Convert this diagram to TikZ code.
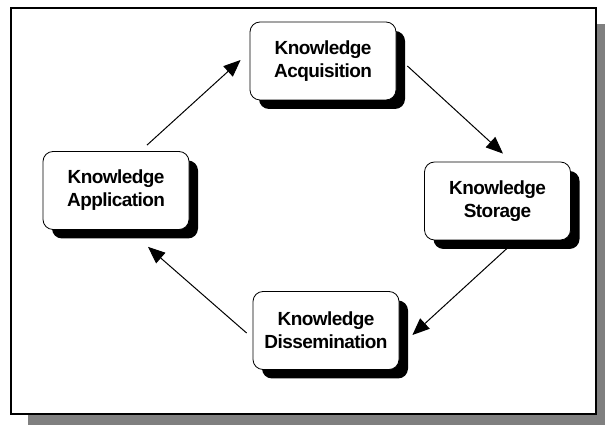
\documentclass[tikz,border=0pt]{standalone}
\usepackage{fontspec}
\setmainfont{Liberation Sans}
\newfontfamily\stagefont[LetterSpace=-3]{Liberation Sans}
\usetikzlibrary{arrows.meta,shadows}
\begin{document}
\begin{tikzpicture}[x=1pt,y=1pt,
        >={Triangle[length=17pt,width=14pt]},
        stage/.style={draw,line width=0.8pt,fill=white,rounded corners=10pt,
            minimum width=146pt,minimum height=78pt,align=center,
            font=\stagefont\bfseries\fontsize{19}{23}\selectfont,
            drop shadow={shadow xshift=9pt,shadow yshift=-9pt,fill=black,opacity=1}},
        flow/.style={->,line width=1pt}]
    \useasboundingbox (0,0) rectangle (605,425);
    \clip (0,0) rectangle (605,425);
    % frame with grey shadow
    \fill[gray] (28,-5) rectangle (612,401);
    \draw[line width=1.6pt,fill=white] (11,11) rectangle (596,417);
    % the four stages
    \node[stage] (acq) at (323,364) {Knowledge\\Acquisition};
    \node[stage] (sto) at (497.5,224) {Knowledge\\Storage};
    \node[stage] (dis) at (326,94.5) {Knowledge\\Dissemination};
    \node[stage] (app) at (116,234.5) {Knowledge\\Application};
    % cycle
    \draw[flow] ([shift={(31,6)}]app.north) -- ([shift={(-9,1)}]acq.west);
    \draw[flow] ([shift={(11,-5)}]acq.east) -- ([shift={(5.5,8)}]sto.north);
    \draw[flow] ([shift={(9.5,-8)}]sto.south) -- ([shift={(13,-4.5)}]dis.east);
    \draw[flow] ([shift={(-6,-2.5)}]dis.west) -- ([shift={(32,-17)}]app.south);
\end{tikzpicture}
\end{document}
